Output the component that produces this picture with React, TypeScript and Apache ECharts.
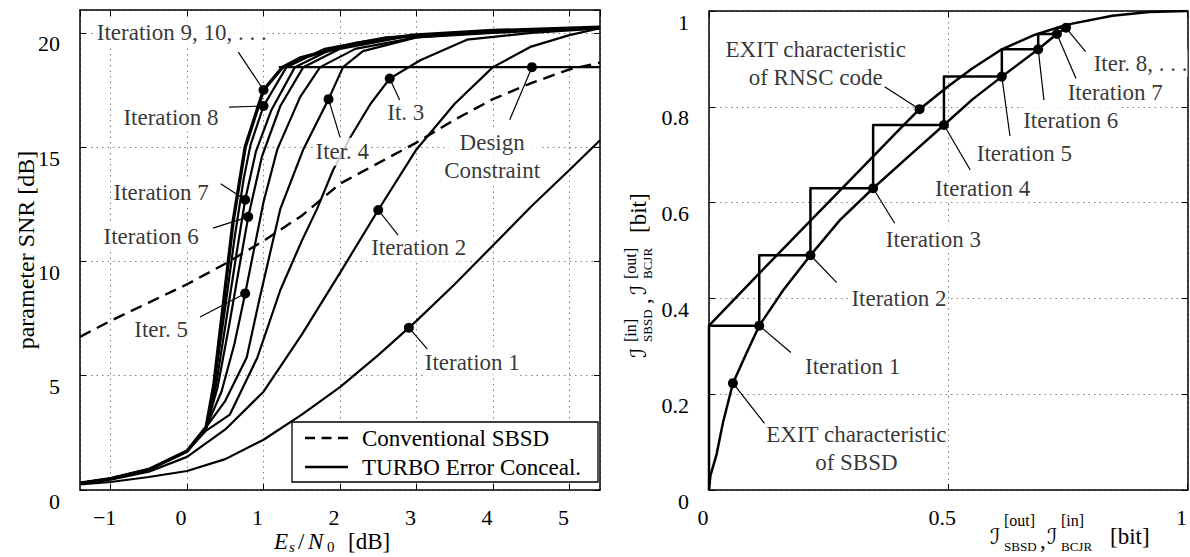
import React, { useEffect, useRef } from 'react';
import * as echarts from 'echarts';

const FONT = "'Liberation Serif', 'Times New Roman', serif";
const SCRIPT = "'DejaVu Serif', 'DejaVu Sans', serif";

// ---------- Left panel: parameter SNR vs Es/N0 ----------
const conventionalSBSD = [[-1.4, 6.7], [-1, 7.4], [-0.5, 8.2], [0, 9.0], [0.5, 9.9], [1, 10.9], [1.5, 12.0], [2, 13.4], [2.5, 14.3], [3, 15.2], [3.5, 16.2], [4, 17.1], [4.5, 17.8], [5, 18.4], [5.4, 18.7]];
const designConstraint = [[1.2, 18.5], [5.4, 18.5]];
const iter1 = [[-1.4, 0.25], [-1, 0.35], [-0.5, 0.57], [0, 0.83], [0.5, 1.35], [1, 2.2], [1.5, 3.3], [2, 4.5], [2.5, 5.9], [3, 7.4], [3.5, 9.0], [4, 10.7], [4.5, 12.4], [5, 14.0], [5.4, 15.3]];
const iter2 = [[-1.4, 0.28], [-1, 0.45], [-0.5, 0.8], [0, 1.45], [0.5, 2.65], [1, 4.3], [1.5, 6.8], [2, 9.5], [2.5, 12.25], [3, 14.9], [3.5, 16.9], [4, 18.5], [4.5, 19.4], [5, 19.9], [5.4, 20.2]];
const bundleStart = [[-1.4, 0.3], [-1, 0.5], [-0.5, 0.9], [0, 1.7]];
const iter3 = [[0.25, 2.6], [0.56, 3.3], [0.92, 5.8], [1.22, 8.75], [1.5, 10.9], [1.7, 12.3], [1.91, 14.0], [2.13, 15.4], [2.4, 16.9], [2.65, 18.0], [3.05, 18.8], [3.66, 19.7], [4.5, 20.0], [5.4, 20.2]];
const iter4 = [[0.25, 2.75], [0.5, 3.9], [0.78, 5.8], [0.95, 8.4], [1.22, 12.3], [1.52, 14.9], [1.85, 17.1], [2.04, 18.5], [2.3, 19.2], [3.0, 19.8], [4.0, 20.0], [5.4, 20.2]];
const iter5 = [[0.25, 2.75], [0.45, 4.3], [0.62, 6.4], [0.76, 8.6], [1.0, 12.6], [1.18, 14.9], [1.48, 17.2], [1.74, 18.5], [2.2, 19.3], [3.0, 19.8], [4.0, 20.05], [5.4, 20.2]];
const iter6 = [[0.25, 2.75], [0.4, 4.5], [0.55, 7.2], [0.68, 9.7], [0.8, 11.95], [0.98, 14.6], [1.22, 16.8], [1.52, 18.5], [2.0, 19.3], [2.8, 19.8], [4.0, 20.1], [5.4, 20.2]];
const iter7 = [[0.25, 2.75], [0.38, 4.6], [0.52, 7.6], [0.64, 10.2], [0.76, 12.7], [0.9, 14.8], [1.1, 16.6], [1.41, 18.5], [1.9, 19.3], [2.7, 19.8], [4.0, 20.1], [5.4, 20.2]];
const iter8 = [[0.25, 2.75], [0.36, 4.7], [0.5, 8.0], [0.62, 11.0], [0.74, 13.6], [0.83, 15.1], [1.0, 16.8], [1.3, 18.5], [1.8, 19.3], [2.6, 19.8], [4.0, 20.1], [5.4, 20.2]];
const iter9 = [[0.25, 2.75], [0.35, 4.6], [0.47, 8.0], [0.6, 11.7], [0.76, 15.0], [1.0, 17.5], [1.25, 18.5], [1.48, 18.9], [2.22, 19.55], [2.95, 19.9], [4.0, 20.1], [5.4, 20.25]];

// ---------- Right panel: EXIT chart ----------
const rnscCurve = [[0, 0.343], [0.1, 0.447], [0.2, 0.55], [0.3, 0.652], [0.4, 0.755], [0.44, 0.795], [0.5, 0.843], [0.55, 0.88], [0.612, 0.92], [0.68, 0.95], [0.746, 0.971], [0.843, 0.99], [0.92, 0.998], [1, 1]];
const sbsdCurve = [[0, 0], [0.003, 0.03], [0.016, 0.075], [0.029, 0.14], [0.05, 0.223], [0.078, 0.285], [0.105, 0.343], [0.155, 0.417], [0.212, 0.49], [0.274, 0.564], [0.343, 0.63], [0.419, 0.698], [0.491, 0.762], [0.55, 0.815], [0.612, 0.863], [0.688, 0.92], [0.727, 0.952], [0.746, 0.965], [0.755, 0.972]];
const trajectory = [[0, 0], [0, 0.343], [0.105, 0.343], [0.105, 0.49], [0.212, 0.49], [0.212, 0.63], [0.343, 0.63], [0.343, 0.762], [0.491, 0.762], [0.491, 0.863], [0.612, 0.863], [0.612, 0.92], [0.688, 0.92], [0.688, 0.952], [0.727, 0.952], [0.727, 0.965], [0.746, 0.965]];

// ---------- Annotations (text position, leader tip, marked point) ----------
type Note = { text: string; pos: number[]; tip: number[]; dot: number[]; align?: string };
const leftNotes: Note[] = [
  { text: 'Iteration 9, 10, . . .', pos: [-0.07, 20.0], tip: [0.67, 19.16], dot: [1.0, 17.5] },
  { text: 'Iteration 8', pos: [-0.21, 16.3], tip: [0.55, 16.75], dot: [1.0, 16.8] },
  { text: 'Iteration 7', pos: [-0.34, 13.0], tip: [0.44, 13.4], dot: [0.76, 12.7] },
  { text: 'Iteration 6', pos: [-0.47, 11.07], tip: [0.34, 11.46], dot: [0.8, 11.95] },
  { text: 'Iter. 5', pos: [-0.34, 7.04], tip: [0.17, 7.57], dot: [0.76, 8.6] },
  { text: 'Iter. 4', pos: [2.03, 14.8], tip: [2.0, 15.44], dot: [1.85, 17.1] },
  { text: 'It. 3', pos: [2.86, 16.5], tip: [2.78, 17.06], dot: [2.65, 18.0] },
  { text: 'Iteration 2', pos: [3.03, 10.6], tip: [2.76, 11.15], dot: [2.5, 12.25] },
  { text: 'Iteration 1', pos: [3.73, 5.56], tip: [3.14, 6.17], dot: [2.9, 7.1] },
  { text: 'Design\nConstraint', pos: [3.99, 14.57], tip: [4.22, 16.2], dot: [4.51, 18.5] },
];
const rightNotes: Note[] = [
  { text: 'EXIT characteristic\nof RNSC code', pos: [0.223, 0.891], tip: [0.367, 0.842], dot: [0.44, 0.795] },
  { text: 'Iteration 1', pos: [0.30, 0.257], tip: [0.171, 0.287], dot: [0.105, 0.343] },
  { text: 'Iteration 2', pos: [0.397, 0.40], tip: [0.267, 0.433], dot: [0.212, 0.49] },
  { text: 'Iteration 3', pos: [0.469, 0.524], tip: [0.388, 0.557], dot: [0.343, 0.63] },
  { text: 'Iteration 4', pos: [0.572, 0.63], tip: [0.546, 0.668], dot: [0.491, 0.762] },
  { text: 'Iteration 5', pos: [0.659, 0.703], tip: [0.629, 0.739], dot: [0.612, 0.863] },
  { text: 'Iteration 6', pos: [0.756, 0.772], tip: [0.70, 0.814], dot: [0.688, 0.92] },
  { text: 'Iteration 7', pos: [0.849, 0.829], tip: [0.767, 0.859], dot: [0.727, 0.952] },
  { text: 'Iter. 8, . . .', pos: [0.804, 0.891], tip: [0.787, 0.915], dot: [0.746, 0.965], align: 'left' },
  { text: 'EXIT characteristic\nof SBSD', pos: [0.308, 0.086], tip: [0.116, 0.139], dot: [0.05, 0.223] },
];

const legendItems = ['Conventional SBSD', 'TURBO Error Conceal.'];

// ---------- helpers ----------
const curve = (data: number[][], ax: number, width = 2.2, extra: any = {}) => ({
  type: 'line', data, xAxisIndex: ax, yAxisIndex: ax, symbol: 'none', showSymbol: false,
  smooth: false, silent: true, z: 2,
  lineStyle: { color: '#000', width, opacity: 1, join: 'round', ...extra },
});

const notesSeries = (notes: Note[], ax: number) => {
  const out: any[] = [];
  notes.forEach((n) => {
    out.push({
      type: 'line', data: [n.tip, n.dot], xAxisIndex: ax, yAxisIndex: ax, symbol: 'none', silent: true, z: 4,
      lineStyle: { color: '#000', width: 1.2 },
    });
  });
  out.push({
    type: 'scatter', xAxisIndex: ax, yAxisIndex: ax, symbolSize: 1, silent: true, z: 3,
    itemStyle: { color: 'rgba(0,0,0,0)' },
    data: notes.map((n) => ({
      value: n.pos,
      label: {
        show: true, position: 'inside', formatter: n.text, align: n.align || 'center', verticalAlign: 'middle',
        fontSize: 23, fontFamily: FONT, color: '#000', backgroundColor: '#fff', lineHeight: 28,
      },
    })),
  });
  out.push({
    type: 'scatter', xAxisIndex: ax, yAxisIndex: ax, symbolSize: 10, silent: true, z: 5,
    itemStyle: { color: '#000', opacity: 1 }, data: notes.map((n) => n.dot),
  });
  return out;
};

const gridLine = { show: true, lineStyle: { color: '#808080', width: 1, type: [1.5, 4] } };
const axisLineStyle = { show: true, onZero: false, lineStyle: { color: '#000', width: 1.5 } };
const tickStyle = { show: true, inside: true, length: 6, lineStyle: { color: '#000', width: 1 } };
const labelBase = { fontSize: 22, fontFamily: FONT, color: '#000' };
const minusFmt = (v: number) => String(v).replace('-', '\u2212');

const txt = (x: number, y: number, text: string, size: number, extra: any = {}) => ({
  type: 'text', x, y, z: 100,
  style: { text, fontSize: size, fontFamily: FONT, fill: '#000', align: 'left', verticalAlign: 'middle', ...extra },
});

export default function App() {
  const ref = useRef<HTMLDivElement>(null);
  useEffect(() => {
    document.body.style.margin = '0';
    const chart = echarts.init(ref.current as HTMLDivElement, null, { renderer: 'svg', width: 1190, height: 557 });
    const leftIters = [iter3, iter4, iter5, iter6, iter7, iter8];
    const option: any = {
      animation: false,
      backgroundColor: '#fff',
      textStyle: { fontFamily: FONT },
      grid: [
        { left: 80, top: 10, width: 520, height: 480, containLabel: false },
        { left: 709, top: 11, width: 484, height: 479, containLabel: false },
      ],
      xAxis: [
        {
          type: 'value', gridIndex: 0, position: 'bottom', min: -1.4, max: 5.4, splitNumber: 7,
          axisLine: axisLineStyle, axisTick: tickStyle, splitLine: gridLine,
          axisLabel: { ...labelBase, margin: 16, padding: [0, 12, 0, 0], showMinLabel: false, showMaxLabel: false, formatter: minusFmt },
        },
        {
          type: 'value', gridIndex: 0, position: 'top', min: -1.4, max: 5.4, splitNumber: 7,
          axisLine: axisLineStyle, axisTick: tickStyle, splitLine: { show: false }, axisLabel: { show: false },
        },
        {
          type: 'value', gridIndex: 1, position: 'bottom', min: 0, max: 1, interval: 0.5,
          axisLine: axisLineStyle, axisTick: tickStyle, splitLine: gridLine,
          axisLabel: { ...labelBase, margin: 16, padding: [0, 12, 0, 0] },
        },
        {
          type: 'value', gridIndex: 1, position: 'top', min: 0, max: 1, interval: 0.5,
          axisLine: axisLineStyle, axisTick: tickStyle, splitLine: { show: false }, axisLabel: { show: false },
        },
      ],
      yAxis: [
        {
          type: 'value', gridIndex: 0, position: 'left', min: 0, max: 21, interval: 5,
          axisLine: axisLineStyle, axisTick: tickStyle, splitLine: gridLine,
          axisLabel: { ...labelBase, margin: 20, verticalAlign: 'top', showMaxLabel: false },
        },
        {
          type: 'value', gridIndex: 0, position: 'right', min: 0, max: 21, interval: 5,
          axisLine: axisLineStyle, axisTick: tickStyle, splitLine: { show: false }, axisLabel: { show: false },
        },
        {
          type: 'value', gridIndex: 1, position: 'left', min: 0, max: 1, interval: 0.2,
          axisLine: axisLineStyle, axisTick: tickStyle, splitLine: gridLine,
          axisLabel: { ...labelBase, margin: 20, verticalAlign: 'top' },
        },
        {
          type: 'value', gridIndex: 1, position: 'right', min: 0, max: 1, interval: 0.2,
          axisLine: axisLineStyle, axisTick: tickStyle, splitLine: { show: false }, axisLabel: { show: false },
        },
      ],
      series: [
        curve(conventionalSBSD, 0, 2.4, { type: [12, 7] }),
        curve(designConstraint, 0, 2.4),
        curve(iter1, 0),
        curve(iter2, 0),
        ...leftIters.map((d) => curve([...bundleStart, ...d], 0)),
        curve([...bundleStart, ...iter9], 0, 3.4),
        ...notesSeries(leftNotes, 0),
        curve(rnscCurve, 2, 2.5),
        curve(sbsdCurve, 2, 2.5),
        curve(trajectory, 2, 2.5),
        ...notesSeries(rightNotes, 2),
      ],
      graphic: [
        // legend box
        { type: 'rect', z: 100, shape: { x: 292, y: 422, width: 306, height: 60 }, style: { fill: '#fff', stroke: '#000', lineWidth: 1.3 } },
        { type: 'line', z: 101, shape: { x1: 305, y1: 438, x2: 348, y2: 438 }, style: { stroke: '#000', lineWidth: 2.6, lineDash: [10, 6.5] } },
        { type: 'line', z: 101, shape: { x1: 305, y1: 467, x2: 348, y2: 467 }, style: { stroke: '#000', lineWidth: 2.6 } },
        txt(362, 438, legendItems[0], 23),
        txt(362, 467, legendItems[1], 23),
        // left y-axis title
        { type: 'text', z: 100, x: 26, y: 250, rotation: Math.PI / 2,
          style: { text: 'parameter SNR [dB]', fontSize: 24, fontFamily: FONT, fill: '#000', align: 'center', verticalAlign: 'middle' } },
        // left x-axis title: E_s / N_0 [dB]
        txt(274, 541, 'E', 23, { fontStyle: 'italic' }),
        txt(289, 547, 's', 15, { fontStyle: 'italic' }),
        txt(298, 541, '/', 23),
        txt(308, 541, 'N', 23, { fontStyle: 'italic' }),
        txt(327, 547, '0', 15),
        txt(348, 541, '[dB]', 23),
        // right x-axis title
        txt(990, 536, '\u2110', 22, { fontFamily: SCRIPT }),
        txt(1004, 520, '[out]', 16),
        txt(1004, 546, 'SBSD', 13),
        txt(1040, 540, ',', 23),
        txt(1047, 536, '\u2110', 22, { fontFamily: SCRIPT }),
        txt(1061, 520, '[in]', 16),
        txt(1061, 546, 'BCJR', 13),
        txt(1110, 536, '[bit]', 23),
        // right y-axis title (rotated)
        {
          type: 'group', x: 638, y: 358, rotation: Math.PI / 2, z: 100,
          children: [
            txt(0, 0, '\u2110', 22, { fontFamily: SCRIPT }),
            txt(16, -8, '[in]', 16),
            txt(16, 9, 'SBSD', 13),
            txt(54, 4, ',', 23),
            txt(63, 0, '\u2110', 22, { fontFamily: SCRIPT }),
            txt(79, -8, '[out]', 16),
            txt(79, 9, 'BCJR', 13),
            txt(125, 0, '[bit]', 23),
          ],
        },
      ],
    };
    chart.setOption(option);
    return () => chart.dispose();
  }, []);
  return (
    <div style={{ position: 'fixed', left: 0, top: 0, width: 1190, height: 557, overflow: 'hidden', background: '#fff' }}>
      <div ref={ref} style={{ width: 1190, height: 557 }} />
    </div>
  );
}
